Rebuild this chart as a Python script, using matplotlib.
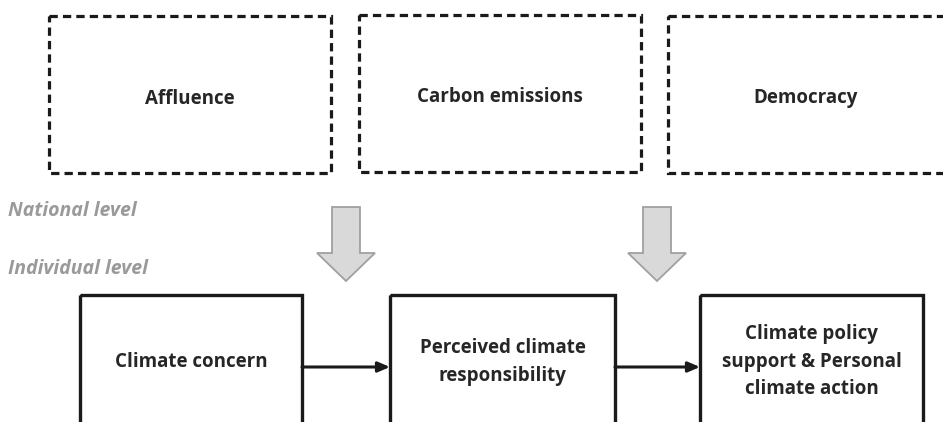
import matplotlib.pyplot as plt
from matplotlib.patches import Rectangle, Polygon

# national level boxes (dashed) : label, left, top, right, bottom in pixel space
national_labels = ["Affluence", "Carbon emissions", "Democracy"]
national_x0 = [49, 359, 668]
national_x1 = [331, 641, 948]
national_y0 = [16, 15, 16]
national_y1 = [173, 172, 173]

# individual level boxes (solid)
individual_labels = ["Climate concern", "Perceived climate\nresponsibility",
                     "Climate policy\nsupport & Personal\nclimate action"]
individual_x0 = [80, 390, 700]
individual_x1 = [302, 615, 923]
individual_y0 = [295, 295, 295]
individual_y1 = [430, 430, 430]

# gray block arrows (center x)
block_arrow_x = [346, 657]

level_labels = ["National level", "Individual level"]
level_y = [211, 269]

text_col = "#262626"

fig = plt.figure(figsize=(9.43, 4.22), dpi=100)
ax = fig.add_axes([0, 0, 1, 1])
ax.set_xlim(0, 943)
ax.set_ylim(422, 0)
ax.axis("off")

for lab, x0, x1, y0, y1 in zip(national_labels, national_x0, national_x1, national_y0, national_y1):
    r = Rectangle((x0, y0), x1 - x0, y1 - y0, fill=False, edgecolor="#1a1a1a",
                  linewidth=2.3, linestyle=(0, (2.6, 1.6)), joinstyle="miter")
    ax.add_patch(r)
    cx = (x0 + min(x1, 943)) / 2
    ax.text(cx, (y0 + y1) / 2 + 4, lab, ha="center", va="center", fontsize=13.5,
            fontweight="bold", family="Open Sans", color=text_col)

for lab, x0, x1, y0, y1 in zip(individual_labels, individual_x0, individual_x1, individual_y0, individual_y1):
    r = Rectangle((x0, y0), x1 - x0, y1 - y0, fill=False, edgecolor="#1a1a1a",
                  linewidth=2.4, joinstyle="miter")
    ax.add_patch(r)
    ax.text((x0 + x1) / 2, 362, lab, ha="center", va="center", fontsize=13.5,
            fontweight="bold", family="Open Sans", color=text_col, linespacing=1.5)

# black arrows between individual boxes
for i in range(len(individual_labels) - 1):
    ax.annotate("", xy=(individual_x0[i + 1], 367), xytext=(individual_x1[i], 367),
                arrowprops=dict(arrowstyle="-|>,head_length=0.7,head_width=0.3",
                                color="#1a1a1a", lw=2.2, shrinkA=0, shrinkB=0))

# gray down arrows
for cx in block_arrow_x:
    top, shoulder, tip = 207, 253, 281
    shaft_hw, head_hw = 14, 29
    pts = [(cx - shaft_hw, top), (cx + shaft_hw, top), (cx + shaft_hw, shoulder),
           (cx + head_hw, shoulder), (cx, tip), (cx - head_hw, shoulder),
           (cx - shaft_hw, shoulder)]
    ax.add_patch(Polygon(pts, closed=True, facecolor="#d9d9d9", edgecolor="#a0a0a0", linewidth=1.3))

for lab, y in zip(level_labels, level_y):
    ax.text(8, y, lab, ha="left", va="center", fontsize=14, fontweight="bold",
            fontstyle="italic", family="Open Sans", color="#9a9a9a")

fig.savefig("out.png", dpi=100)
